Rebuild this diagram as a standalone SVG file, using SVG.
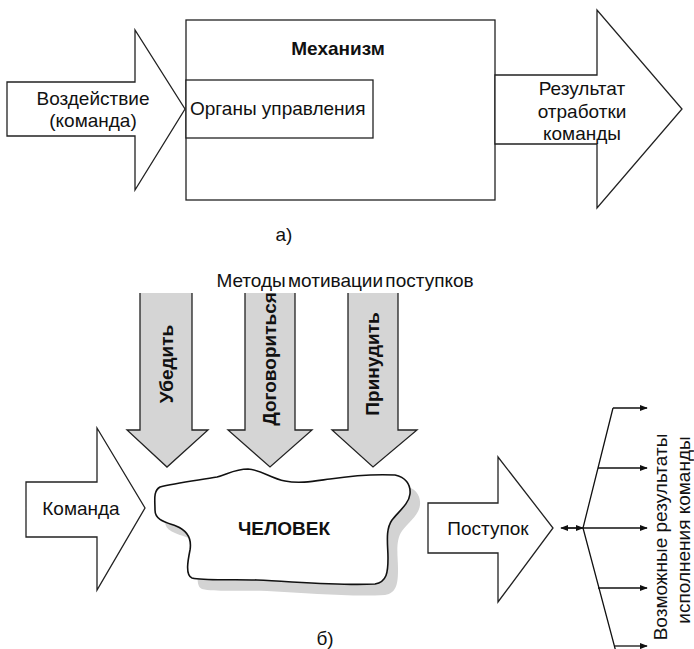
<svg xmlns="http://www.w3.org/2000/svg" width="694" height="649" viewBox="0 0 694 649">
<defs>
<style>
.ln{fill:#fff;stroke:#222;stroke-width:1.3}
.gr{fill:#d5d5d5;stroke:#222;stroke-width:1.3}
.t{font-family:"Liberation Sans",Arial,sans-serif;font-size:19px;fill:#111}
.b{font-weight:bold}
.c{text-anchor:middle}
.w{fill:none;stroke:#111;stroke-width:1.3}
</style>
<marker id="ah" viewBox="0 0 10 10" refX="9" refY="5" markerWidth="8" markerHeight="8" orient="auto" markerUnits="userSpaceOnUse">
<path d="M0,1 L10,5 L0,9 Z" fill="#111"/>
</marker>
<path id="blob" d="M160,487 C175,483 200,480 217,477 C228,474 235,469 248,469 C262,470 270,478 285,481 C300,484 315,481 330,479 C350,476 375,474 395,475 C405,477 411,484 410,494 C409,504 398,512 392,520 C385,530 388,545 388,558 C388,572 387,582 375,584 C340,586 300,582 257,580 C230,579 205,581 192,578 C185,575 188,560 190,550 C192,538 186,530 176,526 C165,522 155,520 155,510 C155,500 153,491 160,487 Z"/>
</defs>
<rect width="694" height="649" fill="#fff"/>

<g id="input-a">
<path class="ln" d="M7,82 H135 V30 L185,109 L135,190 V136 H7 Z"/>
<text class="t c" x="93" y="105">Воздействие</text>
<text class="t c" x="93" y="127">(команда)</text>
</g>

<g id="mechanism">
<rect class="ln" x="186" y="20" width="309" height="180"/>
<text class="t b c" x="338" y="55" font-size="16.5">Механизм</text>
</g>

<g id="controls">
<rect class="ln" x="186" y="80" width="187" height="58"/>
<text class="t" x="190" y="115">Органы управления</text>
</g>

<g id="output-a">
<path class="ln" d="M495,75 H597 V10 L682,109 L597,208 V144 H495 Z"/>
<text class="t c" x="582" y="95">Результат</text>
<text class="t c" x="582" y="118">отработки</text>
<text class="t c" x="582" y="140">команды</text>
</g>

<text class="t c" x="284" y="241" font-size="15">а)</text>

<text class="t c" x="345" y="287" font-size="15.5" word-spacing="-3">Методы мотивации поступков</text>

<g id="persuade">
<path class="gr" d="M140,293 V430 H127 L167,467 L208,430 H192 V293"/>
<text class="t b c" transform="translate(173,364) rotate(-90)" font-size="15">Убедить</text>
</g>
<g id="negotiate">
<path class="gr" d="M245,293 V430 H228 L270,467 L312,430 H295 V293"/>
<text class="t b c" transform="translate(276,359) rotate(-90)" font-size="15">Договориться</text>
</g>
<g id="coerce">
<path class="gr" d="M348,293 V430 H332 L373,467 L417,430 H398 V293"/>
<text class="t b c" transform="translate(379,364) rotate(-90)" font-size="15">Принудить</text>
</g>

<g id="command">
<path class="ln" d="M26,482 H97 V428 L145,508 L97,590 V537 H26 Z"/>
<text class="t c" x="81" y="515">Команда</text>
</g>

<g id="human">
<use href="#blob" transform="translate(10,11)" fill="#d3d3d3"/>
<use href="#blob" fill="#fff" stroke="#111" stroke-width="1.6"/>
<text class="t b c" x="284" y="535">ЧЕЛОВЕК</text>
</g>

<g id="action">
<path class="ln" d="M428,503 H498 V457 L553,528 L498,602 V553 H428 Z"/>
<text class="t c" x="488" y="535">Поступок</text>
</g>

<g id="connectors">
<line class="w" x1="583" y1="528" x2="561" y2="528" marker-end="url(#ah)"/>
<line class="w" x1="566" y1="528" x2="583" y2="528" marker-end="url(#ah)"/>
<polyline class="w" points="613,408 583,528 616,652"/>
<line class="w" x1="613" y1="408" x2="647" y2="408" marker-end="url(#ah)"/>
<line class="w" x1="598" y1="468" x2="647" y2="468" marker-end="url(#ah)"/>
<line class="w" x1="583" y1="528" x2="647" y2="528" marker-end="url(#ah)"/>
<line class="w" x1="598" y1="588" x2="647" y2="588" marker-end="url(#ah)"/>
<line class="w" x1="615" y1="646" x2="647" y2="646" marker-end="url(#ah)"/>
</g>

<g id="results">
<text class="t c" transform="translate(667,537) rotate(-90)" font-size="20.5">Возможные результаты</text>
<text class="t c" transform="translate(690,530) rotate(-90)" font-size="20.5">исполнения команды</text>
</g>

<text class="t c" x="325" y="645" font-size="15">б)</text>
</svg>
